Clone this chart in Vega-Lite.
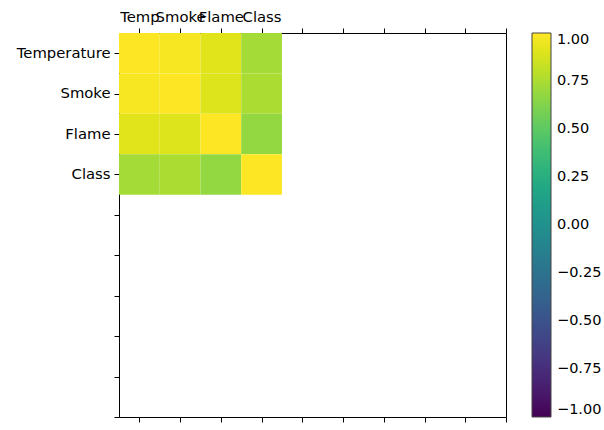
{
  "$schema": "https://vega.github.io/schema/vega-lite/v6.json",
  "autosize": {"type": "none"},
  "padding": {"left": 119, "top": 33, "right": 98, "bottom": 13},
  "width": 387,
  "height": 384,
  "config": {
    "font": "DejaVu Sans",
    "view": {"stroke": "#000000", "strokeWidth": 1},
    "axis": {"domain": false, "grid": false, "tickColor": "#000", "tickSize": 5, "labelColor": "#000", "labelFont": "DejaVu Sans", "labelFontSize": 14.8, "labelPadding": 4}
  },
  "data": {
    "values": [
      {"row": "Temperature", "col": "Temperature", "xi": 0, "yi": 0, "corr": 1.0},
      {"row": "Temperature", "col": "Smoke", "xi": 1, "yi": 0, "corr": 0.98},
      {"row": "Temperature", "col": "Flame", "xi": 2, "yi": 0, "corr": 0.91},
      {"row": "Temperature", "col": "Class", "xi": 3, "yi": 0, "corr": 0.73},
      {"row": "Smoke", "col": "Temperature", "xi": 0, "yi": 1, "corr": 0.98},
      {"row": "Smoke", "col": "Smoke", "xi": 1, "yi": 1, "corr": 1.0},
      {"row": "Smoke", "col": "Flame", "xi": 2, "yi": 1, "corr": 0.9},
      {"row": "Smoke", "col": "Class", "xi": 3, "yi": 1, "corr": 0.75},
      {"row": "Flame", "col": "Temperature", "xi": 0, "yi": 2, "corr": 0.91},
      {"row": "Flame", "col": "Smoke", "xi": 1, "yi": 2, "corr": 0.9},
      {"row": "Flame", "col": "Flame", "xi": 2, "yi": 2, "corr": 1.0},
      {"row": "Flame", "col": "Class", "xi": 3, "yi": 2, "corr": 0.68},
      {"row": "Class", "col": "Temperature", "xi": 0, "yi": 3, "corr": 0.73},
      {"row": "Class", "col": "Smoke", "xi": 1, "yi": 3, "corr": 0.75},
      {"row": "Class", "col": "Flame", "xi": 2, "yi": 3, "corr": 0.68},
      {"row": "Class", "col": "Class", "xi": 3, "yi": 3, "corr": 1.0}
    ]
  },
  "resolve": {"axis": {"x": "independent"}},
  "layer": [
    {
      "mark": {"type": "rect", "width": 40.74, "height": 40.42},
      "encoding": {
        "x": {
          "field": "xi", "type": "quantitative",
          "scale": {"domain": [-0.5, 9], "nice": false, "zero": false},
          "axis": {"orient": "top", "title": null, "values": [0,1,2,3,4,5,6,7,8,9],
            "labelExpr": "datum.value == 0 ? 'Temp' : datum.value == 1 ? 'Smoke' : datum.value == 2 ? 'Flame' : datum.value == 3 ? 'Class' : ''",
            "labelOverlap": false, "labelFlush": false, "labelBound": false}
        },
        "y": {
          "field": "yi", "type": "quantitative",
          "scale": {"domain": [-0.5, 9], "nice": false, "zero": false, "reverse": true},
          "axis": {"orient": "left", "title": null, "values": [0,1,2,3,4,5,6,7,8,9],
            "labelExpr": "datum.value == 0 ? 'Temperature' : datum.value == 1 ? 'Smoke' : datum.value == 2 ? 'Flame' : datum.value == 3 ? 'Class' : ''",
            "labelOverlap": false, "labelFlush": false, "labelBound": false}
        },
        "color": {
          "field": "corr", "type": "quantitative",
          "scale": {"scheme": "viridis", "domain": [-1, 1]},
          "legend": {
            "title": null, "orient": "none", "legendX": 413, "legendY": 0,
            "direction": "vertical", "gradientLength": 384, "gradientThickness": 19,
            "gradientStrokeColor": "#444", "gradientStrokeWidth": 1,
            "values": [-1, -0.75, -0.5, -0.25, 0, 0.25, 0.5, 0.75, 1],
            "format": ".2f", "labelFont": "DejaVu Sans", "labelFontSize": 14.5, "labelColor": "#000",
            "labelOffset": 6, "labelOverlap": false
          }
        }
      }
    },
    {
      "mark": {"type": "rect", "width": 40.74, "height": 40.42, "opacity": 0},
      "encoding": {
        "x": {
          "field": "xi", "type": "quantitative",
          "axis": {"orient": "bottom", "title": null, "values": [0,1,2,3,4,5,6,7,8,9], "labels": false}
        },
        "y": {"field": "yi", "type": "quantitative"}
      }
    }
  ]
}
